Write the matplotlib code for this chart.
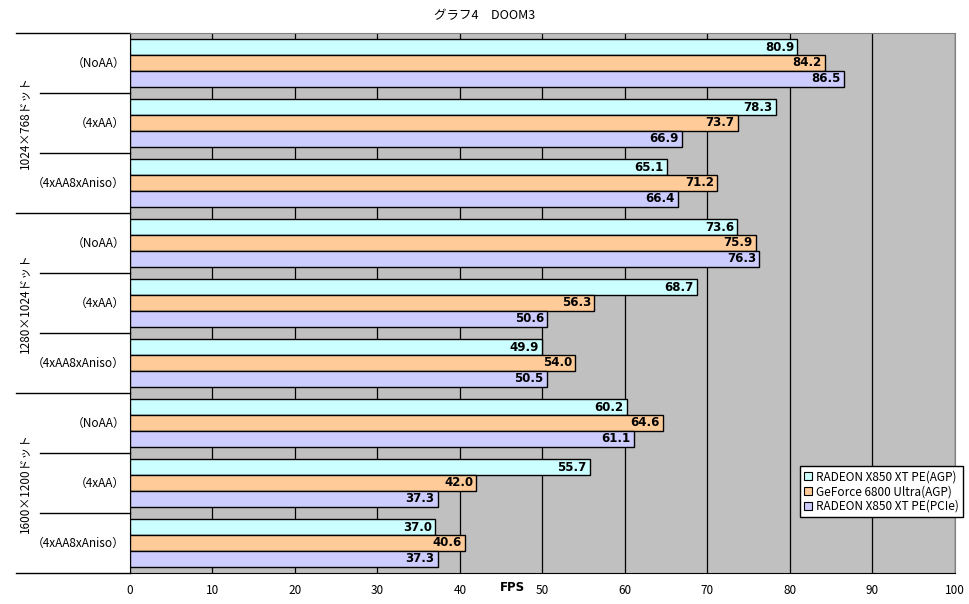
import numpy as np
import matplotlib
matplotlib.use("Agg")
import matplotlib.pyplot as plt
from matplotlib.patches import Patch

plt.rcParams['font.family'] = ['Noto Sans CJK JP', 'DejaVu Sans']

# data
groups = ["1024×768ドット", "1280×1024ドット", "1600×1200ドット"]
settings = ["（NoAA）", "（4xAA）", "（4xAA8xAniso）"]
series = ["RADEON X850 XT PE(AGP)", "GeForce 6800 Ultra(AGP)", "RADEON X850 XT PE(PCIe)"]
radeon_agp = [80.9, 78.3, 65.1, 73.6, 68.7, 49.9, 60.2, 55.7, 37.0]
geforce_agp = [84.2, 73.7, 71.2, 75.9, 56.3, 54.0, 64.6, 42.0, 40.6]
radeon_pcie = [86.5, 66.9, 66.4, 76.3, 50.6, 50.5, 61.1, 37.3, 37.3]
colors = ["#CCFFFF", "#FFCC99", "#CCCCFF"]

fig = plt.figure(figsize=(9.7, 6.04), dpi=100)
ax = fig.add_axes([130/970, 1-573/604, 825/970, 540/604])
ax.set_facecolor("#C0C0C0")

n = len(radeon_agp)
y = np.arange(n)
h = 0.265
vals = [radeon_agp, geforce_agp, radeon_pcie]
for k, (v, c) in enumerate(zip(vals, colors)):
    yy = y + (k - 1) * h
    ax.barh(yy, v, height=h, color=c, edgecolor="black", linewidth=1, zorder=3)
    for yi, vi in zip(yy, v):
        ax.text(vi - 0.4, yi, "%.1f" % vi, ha="right", va="center",
                fontsize=8.5, fontweight="bold", family="DejaVu Sans", zorder=4)

ax.set_xlim(0, 100)
ax.set_ylim(n - 0.5, -0.5)
ax.set_xticks(np.arange(0, 101, 10))
ax.tick_params(axis="x", length=0, pad=8, labelsize=8.5)
ax.set_yticks([])
ax.grid(axis="x", color="black", linewidth=0.9, zorder=1)

for s in ["top", "right"]:
    ax.spines[s].set_color("#808080")
ax.spines["left"].set_color("black")
ax.spines["bottom"].set_color("black")

# category labels + separator ticks
tr = ax.get_yaxis_transform()
for i in range(n):
    ax.text(-0.006, i, settings[i % 3], transform=tr, ha="right", va="center", fontsize=8.5)
for b in range(n + 1):
    if b % 3 == 0:
        ax.plot([-114/825, 0], [b - 0.5, b - 0.5], transform=tr, color="black",
                linewidth=1, clip_on=False)
    else:
        ax.plot([-90/825, 0], [b - 0.5, b - 0.5], transform=tr, color="black",
                linewidth=1, clip_on=False)
for g, name in enumerate(groups):
    ax.text(-104/825, g * 3 + 1, name, transform=tr, rotation=90,
            ha="center", va="center", fontsize=8.5)

ax.text(0.463, -0.027, "FPS", transform=ax.transAxes, ha="center", va="center",
        fontsize=8.5, fontweight="bold", family="DejaVu Sans")

fig.text(0.5, 1 - 16/604, "グラフ4　DOOM3", ha="center", va="center", fontsize=9)

handles = [Patch(facecolor=c, edgecolor="black", linewidth=0.8) for c in colors]
leg = ax.legend(handles, series, loc="lower right",
                bbox_to_anchor=(963/970, 1 - 517/604), bbox_transform=fig.transFigure,
                fontsize=8.5, frameon=True, fancybox=False, framealpha=1,
                edgecolor="black", handlelength=0.7, handleheight=0.7,
                handletextpad=0.3, borderpad=0.35, labelspacing=0.15,
                borderaxespad=0)
leg.get_frame().set_linewidth(1)
leg.set_zorder(5)

fig.savefig("out.png", dpi=100)
